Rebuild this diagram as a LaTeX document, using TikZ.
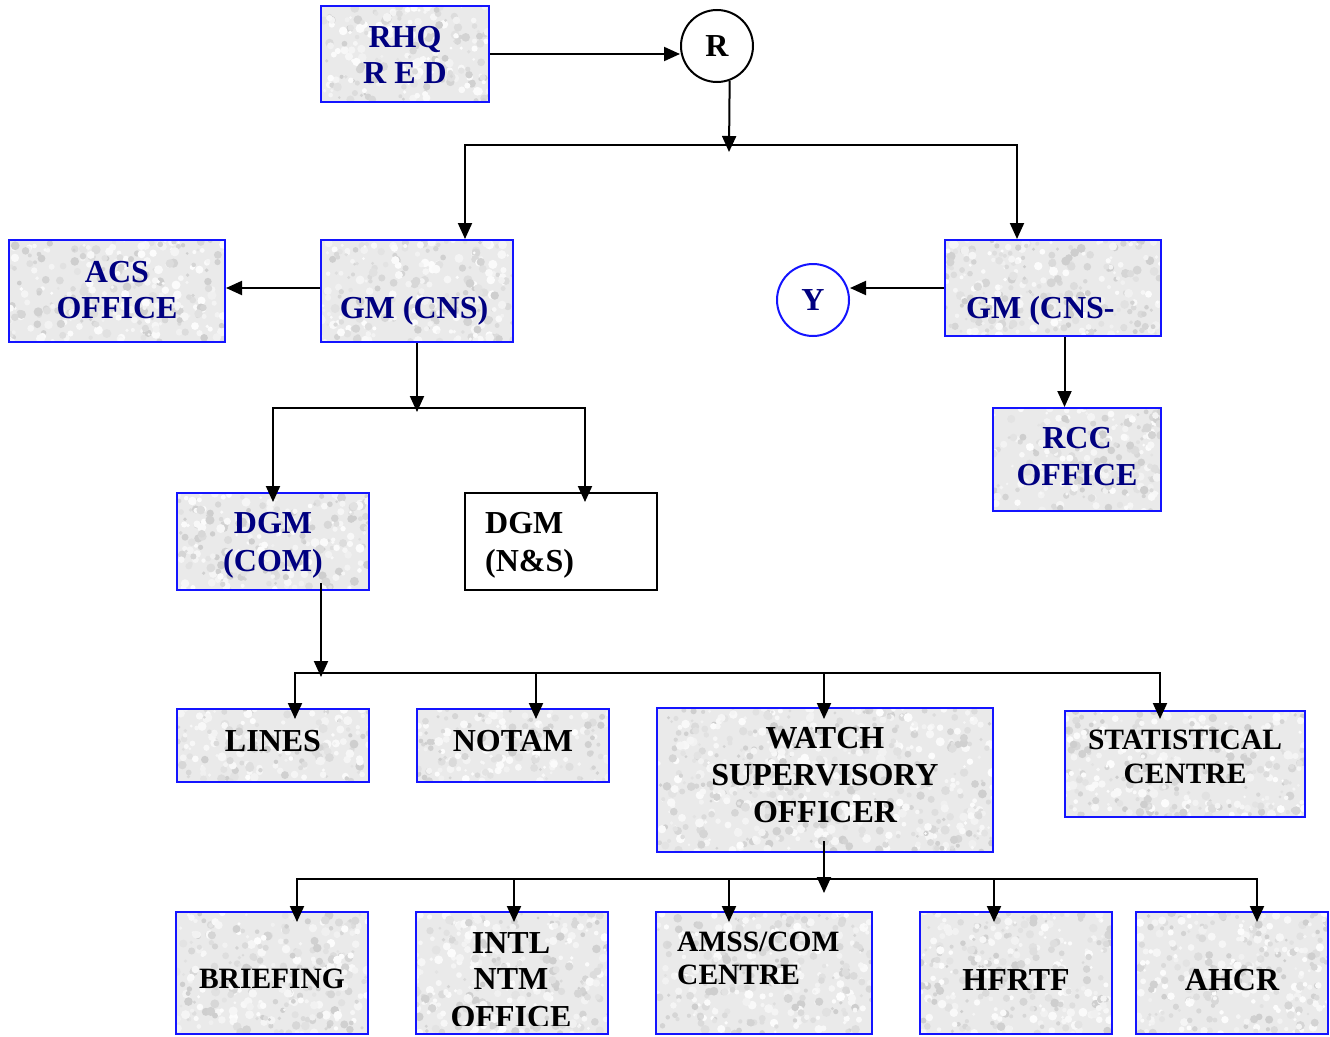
\documentclass[tikz,border=0pt]{standalone}
\usepackage{fontspec}
\setmainfont{Liberation Serif}
\usetikzlibrary{arrows.meta,fit,calc}

\definecolor{navyink}{RGB}{0,0,128}
\definecolor{boxblue}{RGB}{20,20,255}
\definecolor{granite}{RGB}{234,234,234}

% soft cloudy stone texture for the shaded panels
\newcommand\granitegrain{%
  \pgfpointanchor{path picture bounding box}{south west}\pgfgetlastxy\gxa\gya
  \pgfpointanchor{path picture bounding box}{north east}\pgfgetlastxy\gxb\gyb
  \pgfmathtruncatemacro\gn{((\gxb-\gxa)/75)*(\gyb-\gya)}%
  \foreach \k in {1,...,\gn}{%
    \pgfmathsetmacro\gx{\gxa+rnd*(\gxb-\gxa)}%
    \pgfmathsetmacro\gy{\gya+rnd*(\gyb-\gya)}%
    \pgfmathsetmacro\gr{1.4+3.2*rnd}%
    \pgfmathtruncatemacro\gp{rnd*100}%
    \ifnum\gp<50
      \pgfmathtruncatemacro\gq{3+10*rnd}%
      \fill[black!\gq!granite] (\gx pt,\gy pt) circle[radius=\gr pt];
    \else
      \pgfmathtruncatemacro\gq{30+60*rnd}%
      \fill[white!\gq!granite] (\gx pt,\gy pt) circle[radius=\gr pt];
    \fi
  }%
}

\tikzset{
  conn/.style={line width=2pt, -{Triangle[length=16pt,width=14pt]}},
  bus/.style={line width=2pt, line cap=rect},
  panel/.style={draw=boxblue, line width=2pt, fill=granite, inner sep=0pt,
    path picture={\granitegrain}},
  plainbox/.style={draw=black, line width=2pt, fill=white, inner sep=0pt},
  hitext/.style={text=navyink, font=\fontsize{32}{37}\selectfont\bfseries,
    inner sep=0pt, anchor=base},
  lotext/.style={text=black, font=\fontsize{32}{36}\selectfont\bfseries,
    inner sep=0pt, anchor=base},
  lonarrow/.style={lotext, font=\fontsize{29.5}{36}\selectfont\bfseries},
  ring/.style={circle, draw, line width=2pt, fill=white, minimum size=72pt,
    inner sep=0pt, font=\fontsize{32}{37}\selectfont\bfseries},
}

\begin{document}
\begin{tikzpicture}[x=1pt,y=-1pt]
\pgfmathsetseed{17}
\useasboundingbox (0,0) rectangle (1330,1036);
\clip (0,0) rectangle (1330,1036);
\fill[white] (0,0) rectangle (1330,1036);

% ---------- boxes ----------
\node[panel, fit={(321,6) (489,102)}]      (rhq)    {};
\node[panel, fit={(9,240) (225,342)}]      (acs)    {};
\node[panel, fit={(321,240) (513,342)}]    (gmcns)  {};
\node[panel, fit={(945,240) (1161,336)}]   (gmcnsx) {};
\node[panel, fit={(993,408) (1161,511)}]   (rcc)    {};
\node[panel, fit={(177,493) (369,590)}]    (dgmcom) {};
\node[plainbox, fit={(465,493) (657,590)}] (dgmns)  {};
\node[panel, fit={(177,709) (369,782)}]    (lines)  {};
\node[panel, fit={(417,709) (609,782)}]    (notam)  {};
\node[panel, fit={(657,708) (993,852)}]    (watch)  {};
\node[panel, fit={(1065,711) (1305,817)}]  (stat)   {};
\node[panel, fit={(176,912) (368,1034)}]   (brief)  {};
\node[panel, fit={(416,912) (608,1034)}]   (intl)   {};
\node[panel, fit={(656,912) (872,1034)}]   (amss)   {};
\node[panel, fit={(920,912) (1112,1034)}]  (hfrtf)  {};
\node[panel, fit={(1136,912) (1328,1034)}] (ahcr)   {};

\node[ring, text=black] (R) at (717,46) {R};
\node[ring, draw=boxblue, text=navyink] (Y) at (813,300) {Y};

% ---------- labels ----------
\node[hitext] (rhq-a) at (405,47) {RHQ};
\node[hitext] (rhq-b) at (405,83) {R E D};
\node[hitext] (acs-a) at (117,282) {ACS};
\node[hitext] (acs-b) at (117,318) {OFFICE};
\node[hitext] (gmcns-a) at (414,318) {GM (CNS)};
\node[hitext, anchor=base west] (gmcnsx-a) at (966,318) {GM (CNS-};
\node[hitext] (rcc-a) at (1077,448) {RCC};
\node[hitext] (rcc-b) at (1077,485) {OFFICE};
\node[hitext] (dgmcom-a) at (273,533) {DGM};
\node[hitext] (dgmcom-b) at (273,571) {(COM)};
\node[hitext, text=black, anchor=base west] (dgmns-a) at (485,533) {DGM};
\node[hitext, text=black, anchor=base west] (dgmns-b) at (485,571) {(N\&S)};

\node[lotext] (lines-a) at (273,751) {LINES};
\node[lotext] (notam-a) at (513,751) {NOTAM};
\node[lotext] (watch-a) at (825,748) {WATCH};
\node[lotext] (watch-b) at (825,785) {SUPERVISORY};
\node[lotext] (watch-c) at (825,822) {OFFICER};
\node[lonarrow] (stat-a) at (1185,749) {STATISTICAL};
\node[lonarrow] (stat-b) at (1185,783) {CENTRE};
\node[lonarrow] (brief-a) at (272,988) {BRIEFING};
\node[lotext] (intl-a) at (511,953) {INTL};
\node[lotext] (intl-b) at (511,989) {NTM};
\begin{scope}
  \clip (416,912) rectangle (608,1025);
  \node[lotext] (intl-c) at (511,1027) {OFFICE};
\end{scope}
\node[lonarrow, anchor=base west] (amss-a) at (677,951) {AMSS/COM};
\node[lonarrow, anchor=base west] (amss-b) at (677,984) {CENTRE};
\node[lotext] (hfrtf-a) at (1016,990) {HFRTF};
\node[lotext] (ahcr-a) at (1232,990) {AHCR};

% ---------- connectors ----------
\draw[conn] (rhq.east) -- (rhq.east -| R.west);

% R to the two general managers
\coordinate (busA-l) at (465,145);
\coordinate (busA-r) at (1017,145);
\coordinate (j1) at (729,152);
\draw[bus] (busA-l) -- (busA-r);
\draw[conn] (R.-70) -- (j1);
\draw[conn] (busA-l) -- (busA-l |- gmcns.north);
\draw[conn] (busA-r) -- (busA-r |- gmcnsx.north);

\draw[conn] ([yshift=3pt]gmcns.west) -- ([yshift=3pt]gmcns.west -| acs.east);
\draw[conn] (gmcnsx.west) -- (gmcnsx.west -| Y.east);
\draw[conn] ([xshift=11.5pt]gmcnsx.south) -- ([xshift=11.5pt]gmcnsx.south |- rcc.north);

% GM (CNS) to the deputies
\coordinate (busB-l) at (273,408);
\coordinate (busB-r) at (585,408);
\coordinate (j2) at (417,412);
\draw[bus] (busB-l) -- (busB-r);
\draw[conn] (gmcns.south) -- (j2);
\draw[conn] (busB-l) -- ($(busB-l |- dgmcom.north)+(0,10)$);
\draw[conn] (busB-r) -- ($(busB-r |- dgmns.north)+(0,10)$);

% DGM (COM) to its sections
\coordinate (busC-1) at (295,673);
\coordinate (busC-2) at (536,673);
\coordinate (busC-3) at (824,673);
\coordinate (busC-4) at (1160,673);
\coordinate (j3) at (321,677);
\draw[bus] (busC-1) -- (busC-4);
\draw[conn] ($(dgmcom.south)+(48,-8)$) -- (j3);
\draw[conn] (busC-1) -- ($(busC-1 |- lines.north)+(0,11)$);
\draw[conn] (busC-2) -- ($(busC-2 |- notam.north)+(0,11)$);
\draw[conn] (busC-3) -- ($(busC-3 |- watch.north)+(0,12)$);
\draw[conn] (busC-4) -- ($(busC-4 |- stat.north)+(0,9)$);

% watch supervisor to the units
\coordinate (busD-1) at (297,879);
\coordinate (busD-2) at (514,879);
\coordinate (busD-3) at (729,879);
\coordinate (busD-4) at (994,879);
\coordinate (busD-5) at (1257,879);
\coordinate (j4) at (824,893);
\draw[bus] (busD-1) -- (busD-5);
\draw[conn] ($(watch.south)+(-1,-12)$) -- (j4);
\draw[conn] (busD-1) -- ($(busD-1 |- brief.north)+(0,11)$);
\draw[conn] (busD-2) -- ($(busD-2 |- intl.north)+(0,11)$);
\draw[conn] (busD-3) -- ($(busD-3 |- amss.north)+(0,11)$);
\draw[conn] (busD-4) -- ($(busD-4 |- hfrtf.north)+(0,11)$);
\draw[conn] (busD-5) -- ($(busD-5 |- ahcr.north)+(0,11)$);
\end{tikzpicture}
\end{document}
